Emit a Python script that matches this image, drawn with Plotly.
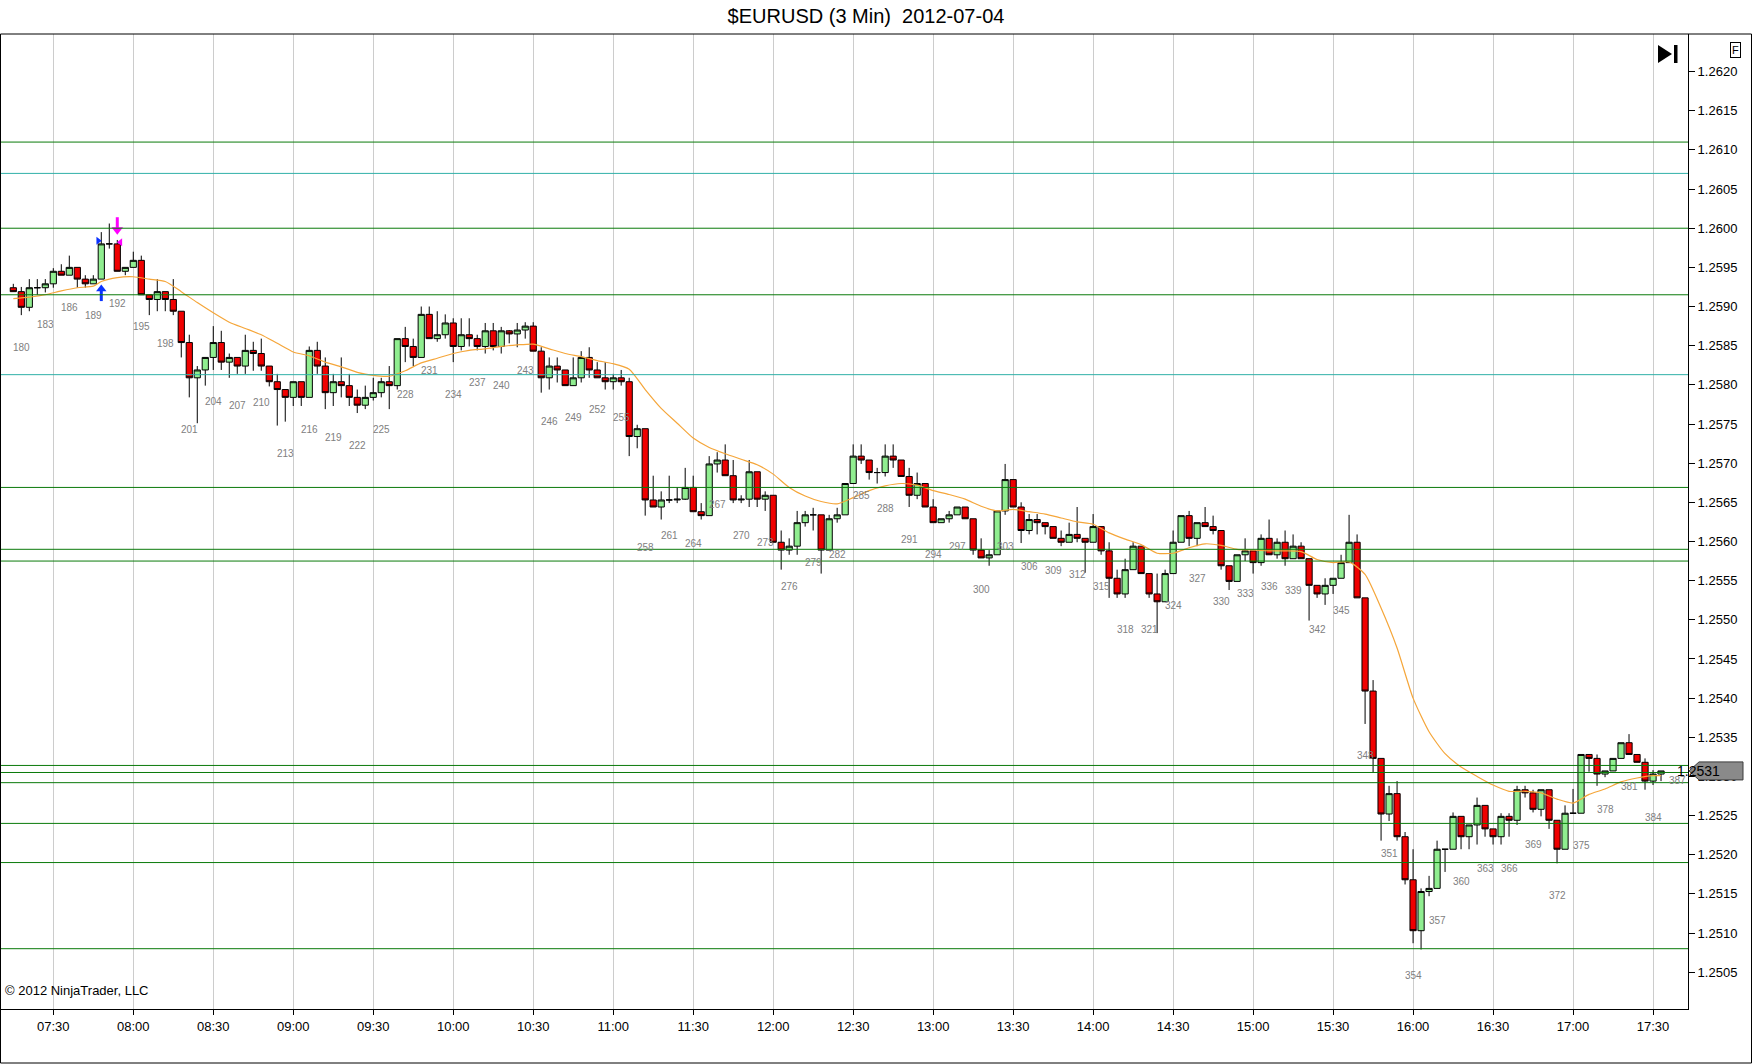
import pandas as pd
import plotly.graph_objects as go


# 3-minute EURUSD bars, bar 179 (07:15) .. bar 385 (17:33)
first_bar = 179
first_time = "2012-07-04 07:15"

opens = [1.25924, 1.25919, 1.25899, 1.25924, 1.25924, 1.25929, 1.25945, 1.25940, 1.25950, 1.25935,
         1.25929, 1.25935, 1.25980, 1.25980, 1.25945, 1.25950, 1.25959, 1.25915, 1.25909, 1.25919,
         1.25909, 1.25894, 1.25854, 1.25809, 1.25819, 1.25835, 1.25854, 1.25829, 1.25835, 1.25824,
         1.25844, 1.25840, 1.25824, 1.25804, 1.25794, 1.25784, 1.25804, 1.25784, 1.25844, 1.25824,
         1.25790, 1.25804, 1.25799, 1.25784, 1.25774, 1.25784, 1.25790, 1.25804, 1.25799, 1.25859,
         1.25849, 1.25835, 1.25890, 1.25859, 1.25864, 1.25879, 1.25849, 1.25864, 1.25859, 1.25849,
         1.25869, 1.25849, 1.25869, 1.25865, 1.25870, 1.25875, 1.25843, 1.25809, 1.25824, 1.25819,
         1.25799, 1.25809, 1.25835, 1.25819, 1.25809, 1.25804, 1.25809, 1.25804, 1.25734, 1.25744,
         1.25653, 1.25644, 1.25653, 1.25653, 1.25654, 1.25669, 1.25638, 1.25633, 1.25699, 1.25704,
         1.25684, 1.25653, 1.25654, 1.25689, 1.25654, 1.25659, 1.25599, 1.25589, 1.25594, 1.25624,
         1.25634, 1.25634, 1.25589, 1.25629, 1.25634, 1.25674, 1.25709, 1.25704, 1.25688, 1.25688,
         1.25709, 1.25704, 1.25683, 1.25659, 1.25674, 1.25644, 1.25624, 1.25629, 1.25634, 1.25644,
         1.25629, 1.25589, 1.25579, 1.25583, 1.25639, 1.25679, 1.25644, 1.25614, 1.25628, 1.25624,
         1.25619, 1.25604, 1.25599, 1.25609, 1.25604, 1.25599, 1.25619, 1.25588, 1.25553, 1.25533,
         1.25564, 1.25594, 1.25559, 1.25533, 1.25523, 1.25559, 1.25599, 1.25633, 1.25604, 1.25624,
         1.25619, 1.25614, 1.25569, 1.25549, 1.25583, 1.25588, 1.25573, 1.25604, 1.25583, 1.25599,
         1.25578, 1.25594, 1.25578, 1.25544, 1.25533, 1.25544, 1.25553, 1.25573, 1.25599, 1.25528,
         1.25409, 1.25323, 1.25252, 1.25278, 1.25223, 1.25168, 1.25103, 1.25153, 1.25157, 1.25207,
         1.25207, 1.25249, 1.25223, 1.25238, 1.25263, 1.25233, 1.25223, 1.25249, 1.25244, 1.25283,
         1.25279, 1.25258, 1.25283, 1.25244, 1.25207, 1.25253, 1.25253, 1.25328, 1.25323, 1.25303,
         1.25307, 1.25323, 1.25343, 1.25328, 1.25318, 1.25294, 1.25303]

highs = [1.25929, 1.25925, 1.25935, 1.25935, 1.25935, 1.25949, 1.25954, 1.25965, 1.25950, 1.25940,
         1.25940, 1.25995, 1.26006, 1.25985, 1.25950, 1.25970, 1.25965, 1.25915, 1.25935, 1.25919,
         1.25935, 1.25894, 1.25864, 1.25824, 1.25835, 1.25875, 1.25869, 1.25840, 1.25835, 1.25864,
         1.25855, 1.25859, 1.25824, 1.25814, 1.25794, 1.25804, 1.25804, 1.25849, 1.25855, 1.25835,
         1.25814, 1.25835, 1.25814, 1.25794, 1.25799, 1.25809, 1.25809, 1.25824, 1.25859, 1.25874,
         1.25859, 1.25900, 1.25900, 1.25894, 1.25890, 1.25885, 1.25885, 1.25885, 1.25864, 1.25879,
         1.25879, 1.25874, 1.25870, 1.25879, 1.25880, 1.25880, 1.25848, 1.25835, 1.25835, 1.25819,
         1.25835, 1.25843, 1.25848, 1.25829, 1.25829, 1.25814, 1.25819, 1.25809, 1.25749, 1.25744,
         1.25684, 1.25664, 1.25684, 1.25669, 1.25694, 1.25684, 1.25649, 1.25709, 1.25714, 1.25724,
         1.25704, 1.25659, 1.25704, 1.25689, 1.25664, 1.25659, 1.25614, 1.25604, 1.25639, 1.25639,
         1.25643, 1.25634, 1.25634, 1.25643, 1.25674, 1.25724, 1.25724, 1.25704, 1.25694, 1.25724,
         1.25724, 1.25704, 1.25694, 1.25688, 1.25674, 1.25654, 1.25629, 1.25639, 1.25644, 1.25644,
         1.25629, 1.25604, 1.25589, 1.25639, 1.25699, 1.25679, 1.25650, 1.25635, 1.25635, 1.25624,
         1.25619, 1.25614, 1.25624, 1.25644, 1.25604, 1.25635, 1.25619, 1.25599, 1.25564, 1.25578,
         1.25599, 1.25594, 1.25559, 1.25559, 1.25564, 1.25614, 1.25633, 1.25639, 1.25624, 1.25644,
         1.25633, 1.25614, 1.25569, 1.25583, 1.25604, 1.25588, 1.25609, 1.25628, 1.25604, 1.25614,
         1.25609, 1.25599, 1.25578, 1.25544, 1.25553, 1.25553, 1.25583, 1.25634, 1.25609, 1.25528,
         1.25423, 1.25323, 1.25288, 1.25294, 1.25229, 1.25207, 1.25157, 1.25173, 1.25218, 1.25207,
         1.25254, 1.25249, 1.25238, 1.25273, 1.25263, 1.25233, 1.25253, 1.25253, 1.25288, 1.25288,
         1.25283, 1.25283, 1.25283, 1.25244, 1.25263, 1.25284, 1.25328, 1.25328, 1.25328, 1.25307,
         1.25323, 1.25343, 1.25354, 1.25328, 1.25323, 1.25308, 1.25307]

lows = [1.25919, 1.25889, 1.25894, 1.25915, 1.25918, 1.25924, 1.25940, 1.25940, 1.25924, 1.25924,
        1.25929, 1.25935, 1.25974, 1.25945, 1.25940, 1.25950, 1.25915, 1.25889, 1.25894, 1.25894,
        1.25889, 1.25835, 1.25784, 1.25751, 1.25799, 1.25819, 1.25819, 1.25809, 1.25814, 1.25814,
        1.25818, 1.25818, 1.25798, 1.25748, 1.25753, 1.25773, 1.25773, 1.25784, 1.25814, 1.25769,
        1.25773, 1.25784, 1.25773, 1.25764, 1.25769, 1.25780, 1.25784, 1.25769, 1.25794, 1.25829,
        1.25824, 1.25835, 1.25859, 1.25855, 1.25859, 1.25829, 1.25844, 1.25849, 1.25844, 1.25840,
        1.25844, 1.25840, 1.25853, 1.25848, 1.25859, 1.25843, 1.25790, 1.25794, 1.25803, 1.25799,
        1.25799, 1.25803, 1.25809, 1.25809, 1.25794, 1.25794, 1.25799, 1.25709, 1.25719, 1.25633,
        1.25644, 1.25628, 1.25649, 1.25649, 1.25653, 1.25638, 1.25628, 1.25633, 1.25688, 1.25684,
        1.25649, 1.25649, 1.25644, 1.25644, 1.25639, 1.25599, 1.25564, 1.25583, 1.25583, 1.25619,
        1.25614, 1.25559, 1.25589, 1.25624, 1.25634, 1.25674, 1.25699, 1.25679, 1.25674, 1.25683,
        1.25694, 1.25683, 1.25644, 1.25654, 1.25644, 1.25624, 1.25624, 1.25624, 1.25634, 1.25629,
        1.25583, 1.25579, 1.25569, 1.25583, 1.25634, 1.25644, 1.25598, 1.25609, 1.25609, 1.25609,
        1.25604, 1.25594, 1.25599, 1.25599, 1.25560, 1.25599, 1.25583, 1.25528, 1.25528, 1.25528,
        1.25564, 1.25559, 1.25528, 1.25483, 1.25523, 1.25559, 1.25599, 1.25594, 1.25594, 1.25619,
        1.25609, 1.25564, 1.25538, 1.25549, 1.25575, 1.25559, 1.25569, 1.25583, 1.25578, 1.25569,
        1.25578, 1.25578, 1.25499, 1.25528, 1.25519, 1.25533, 1.25553, 1.25573, 1.25528, 1.25367,
        1.25305, 1.25218, 1.25243, 1.25218, 1.25162, 1.25087, 1.25079, 1.25147, 1.25157, 1.25178,
        1.25207, 1.25207, 1.25207, 1.25213, 1.25223, 1.25213, 1.25213, 1.25223, 1.25238, 1.25273,
        1.25254, 1.25249, 1.25233, 1.25189, 1.25207, 1.25253, 1.25253, 1.25306, 1.25288, 1.25299,
        1.25307, 1.25323, 1.25328, 1.25318, 1.25283, 1.25289, 1.25294]

closes = [1.25919, 1.25899, 1.25924, 1.25924, 1.25929, 1.25945, 1.25940, 1.25950, 1.25935, 1.25929,
          1.25935, 1.25980, 1.25980, 1.25945, 1.25950, 1.25959, 1.25915, 1.25909, 1.25919, 1.25909,
          1.25894, 1.25854, 1.25809, 1.25819, 1.25835, 1.25854, 1.25829, 1.25835, 1.25824, 1.25844,
          1.25840, 1.25824, 1.25804, 1.25794, 1.25784, 1.25804, 1.25784, 1.25844, 1.25824, 1.25790,
          1.25804, 1.25799, 1.25784, 1.25774, 1.25784, 1.25790, 1.25804, 1.25799, 1.25859, 1.25849,
          1.25835, 1.25890, 1.25859, 1.25864, 1.25879, 1.25849, 1.25864, 1.25859, 1.25849, 1.25869,
          1.25849, 1.25869, 1.25865, 1.25870, 1.25875, 1.25843, 1.25809, 1.25824, 1.25819, 1.25799,
          1.25809, 1.25835, 1.25819, 1.25809, 1.25804, 1.25809, 1.25804, 1.25734, 1.25744, 1.25653,
          1.25644, 1.25653, 1.25653, 1.25654, 1.25669, 1.25638, 1.25633, 1.25699, 1.25704, 1.25684,
          1.25653, 1.25654, 1.25689, 1.25654, 1.25659, 1.25599, 1.25589, 1.25594, 1.25624, 1.25634,
          1.25634, 1.25589, 1.25629, 1.25634, 1.25674, 1.25709, 1.25704, 1.25688, 1.25688, 1.25709,
          1.25704, 1.25683, 1.25659, 1.25674, 1.25644, 1.25624, 1.25629, 1.25634, 1.25644, 1.25629,
          1.25589, 1.25579, 1.25583, 1.25639, 1.25679, 1.25644, 1.25614, 1.25628, 1.25624, 1.25619,
          1.25604, 1.25599, 1.25609, 1.25604, 1.25599, 1.25619, 1.25588, 1.25553, 1.25533, 1.25564,
          1.25594, 1.25559, 1.25533, 1.25523, 1.25559, 1.25599, 1.25633, 1.25604, 1.25624, 1.25619,
          1.25614, 1.25569, 1.25549, 1.25583, 1.25588, 1.25573, 1.25604, 1.25583, 1.25599, 1.25578,
          1.25594, 1.25578, 1.25544, 1.25533, 1.25544, 1.25553, 1.25573, 1.25599, 1.25528, 1.25409,
          1.25323, 1.25252, 1.25278, 1.25223, 1.25168, 1.25103, 1.25153, 1.25157, 1.25207, 1.25207,
          1.25249, 1.25223, 1.25238, 1.25263, 1.25233, 1.25223, 1.25249, 1.25244, 1.25283, 1.25279,
          1.25258, 1.25283, 1.25244, 1.25207, 1.25253, 1.25253, 1.25328, 1.25323, 1.25303, 1.25307,
          1.25323, 1.25343, 1.25328, 1.25318, 1.25294, 1.25303, 1.25307]

# moving average (orange), read at every second bar
ma_bars = [179, 181, 183, 185, 187, 189, 190, 192, 194, 196, 198, 200, 202, 204, 206, 208, 210,
           212, 214, 216, 218, 220, 222, 224, 226, 228, 230, 232, 234, 236, 238, 240, 242, 244,
           246, 248, 250, 252, 254, 256, 258, 260, 262, 264, 266, 268, 270, 272, 274, 276, 278,
           280, 282, 284, 286, 288, 290, 292, 294, 296, 298, 300, 302, 304, 306, 308, 310, 312,
           314, 316, 318, 320, 322, 324, 326, 328, 330, 332, 334, 336, 338, 340, 342, 344, 346,
           348, 350, 352, 354, 356, 358, 360, 362, 364, 366, 368, 370, 372, 374, 376, 378, 380,
           382, 384, 385]
ma_values = [1.25910, 1.25912, 1.25915, 1.25920, 1.25924, 1.25926, 1.25932, 1.25937, 1.25938,
             1.25935, 1.25932, 1.25919, 1.25905, 1.25892, 1.25880, 1.25872, 1.25864, 1.25853,
             1.25842, 1.25837, 1.25829, 1.25823, 1.25816, 1.25812, 1.25811, 1.25818, 1.25828,
             1.25834, 1.25840, 1.25844, 1.25846, 1.25849, 1.25851, 1.25852, 1.25846, 1.25840,
             1.25836, 1.25831, 1.25827, 1.25820, 1.25794, 1.25770, 1.25751, 1.25732, 1.25720,
             1.25712, 1.25705, 1.25698, 1.25686, 1.25669, 1.25658, 1.25651, 1.25648, 1.25656,
             1.25665, 1.25671, 1.25674, 1.25672, 1.25665, 1.25660, 1.25654, 1.25645, 1.25639,
             1.25641, 1.25638, 1.25635, 1.25630, 1.25625, 1.25622, 1.25611, 1.25603, 1.25596,
             1.25585, 1.25585, 1.25592, 1.25597, 1.25595, 1.25590, 1.25589, 1.25588, 1.25588,
             1.25587, 1.25577, 1.25573, 1.25574, 1.25558, 1.25515, 1.25464, 1.25400, 1.25357,
             1.25329, 1.25312, 1.25300, 1.25289, 1.25281, 1.25281, 1.25279, 1.25271, 1.25266,
             1.25277, 1.25284, 1.25293, 1.25298, 1.25301, 1.25301]

# drawn horizontal price levels
green_levels = [1.26110, 1.26000, 1.25915, 1.25669, 1.25590, 1.25575,
                1.25314, 1.25305, 1.25292, 1.25240, 1.25190, 1.25080]
teal_levels = [1.26070, 1.25813]

# trade markers: entry on bar 190, exit on bar 192
entry_bar, entry_price, entry_arrow = 190, 1.25984, 1.25918
exit_bar, exit_price, exit_arrow = 192, 1.25982, 1.26002

label_extra = (387, 1.25295)

y_range = [1.25003, 1.26248]
x_range = ["2012-07-04 07:10:23", "2012-07-04 17:43:07"]

times = pd.date_range(first_time, periods=len(opens), freq="3min")
bar_step = pd.Timedelta(minutes=3)


def bar_time(n):
    return pd.Timestamp(first_time) + (n - first_bar) * bar_step


W, H = 1752, 1064
ML, MR, MT, MB = 1, 64, 34, 55


def px(xp):
    return (xp - ML) / (W - ML - MR)


def py(yp):
    return (H - MB - yp) / (H - MT - MB)


FONT = "Liberation Sans, Arial, sans-serif"

fig = go.Figure()

fig.add_trace(go.Candlestick(x=times, open=opens, high=highs, low=lows, close=closes,
                             increasing=dict(fillcolor="#90ee90", line=dict(color="black", width=1)),
                             decreasing=dict(fillcolor="#f00000", line=dict(color="black", width=1)),
                             whiskerwidth=0, showlegend=False, hoverinfo="skip"))

fig.add_trace(go.Scatter(x=[bar_time(b) for b in ma_bars], y=ma_values, mode="lines",
                         line=dict(color="#f5a63a", width=1.2, shape="spline", smoothing=0.6),
                         showlegend=False, hoverinfo="skip"))

# execution markers: block arrows (head + stem) and small flags
fig.add_trace(go.Scatter(x=[bar_time(entry_bar)], y=[entry_arrow + 0.000045],
                         mode="markers", showlegend=False, hoverinfo="skip",
                         marker=dict(color="#0a32ff", symbol="triangle-up", size=9)))
fig.add_trace(go.Scatter(x=[bar_time(entry_bar)], y=[entry_arrow - 0.00003],
                         mode="markers", showlegend=False, hoverinfo="skip",
                         marker=dict(symbol="line-ns", size=9,
                                     line=dict(color="#0a32ff", width=3))))
fig.add_trace(go.Scatter(x=[bar_time(exit_bar)], y=[exit_arrow - 0.00004],
                         mode="markers", showlegend=False, hoverinfo="skip",
                         marker=dict(color="#ff00ff", symbol="triangle-down", size=10)))
fig.add_trace(go.Scatter(x=[bar_time(exit_bar)], y=[exit_arrow + 0.00004],
                         mode="markers", showlegend=False, hoverinfo="skip",
                         marker=dict(symbol="line-ns", size=9,
                                     line=dict(color="#ff00ff", width=3))))
fig.add_trace(go.Scatter(x=[bar_time(entry_bar) - pd.Timedelta(seconds=70)], y=[entry_price],
                         mode="markers", showlegend=False, hoverinfo="skip",
                         marker=dict(color="#0a32ff", symbol="triangle-right", size=7)))
fig.add_trace(go.Scatter(x=[bar_time(exit_bar) + pd.Timedelta(seconds=70)], y=[exit_price],
                         mode="markers", showlegend=False, hoverinfo="skip",
                         marker=dict(color="#ff00ff", symbol="triangle-left", size=7)))

# bar numbers under every third bar
annotations = []
for n in range(180, first_bar + len(opens), 3):
    i = n - first_bar
    annotations.append(dict(x=times[i], y=lows[i], text=str(n), showarrow=False,
                            yshift=-32, font=dict(size=10, color="#808080", family=FONT)))
annotations.append(dict(x=bar_time(label_extra[0]), y=label_extra[1], text=str(label_extra[0]),
                        showarrow=False, font=dict(size=10, color="#808080", family=FONT)))

# last price tag
last = closes[-1]
annotations.append(dict(x=px(1722), y=last, xref="paper", yref="y", text=f"{last:.4f}",
                        showarrow=False, font=dict(size=14, color="black", family=FONT)))
annotations.append(dict(x=px(3), y=py(1000), xref="paper", yref="paper", xanchor="left",
                        text="© 2012 NinjaTrader, LLC", showarrow=False,
                        font=dict(size=13, color="black", family=FONT)))
annotations.append(dict(x=px(1741), y=py(42), xref="paper", yref="paper", text="F",
                        showarrow=False, bordercolor="black", borderwidth=1, borderpad=1,
                        bgcolor="white", font=dict(size=11, color="black", family=FONT)))

shapes = [
    dict(type="path", xref="paper", yref="y", layer="above",
         path=(f"M {px(1689)},{last} L {px(1699)},{last + 0.000115} L {px(1743)},{last + 0.000115} "
               f"L {px(1743)},{last - 0.000115} L {px(1699)},{last - 0.000115} Z"),
         fillcolor="#8a8a8a", line=dict(color="#3c3c3c", width=1)),
    dict(type="path", xref="paper", yref="paper",
         path=f"M {px(1658)},{py(45)} L {px(1672)},{py(54)} L {px(1658)},{py(63)} Z",
         fillcolor="black", line=dict(width=0)),
    dict(type="rect", xref="paper", yref="paper", x0=px(1674), x1=px(1677.5), y0=py(63), y1=py(45),
         fillcolor="black", line=dict(width=0)),
    dict(type="rect", xref="paper", yref="paper", x0=px(0.5), x1=px(1751.5), y0=py(1063), y1=1,
         line=dict(color="black", width=1), fillcolor="rgba(0,0,0,0)"),
]

fig.update_layout(
    width=W, height=H,
    margin=dict(l=ML, r=MR, t=MT, b=MB, pad=0),
    paper_bgcolor="white", plot_bgcolor="white",
    font=dict(family=FONT, size=13, color="black"),
    title=dict(text="$EURUSD (3 Min)&nbsp; 2012-07-04", x=866 / W, xref="container",
               xanchor="center", y=1 - 15.6 / H, yanchor="middle",
               font=dict(size=20, color="black", family=FONT)),
    annotations=annotations,
    shapes=shapes,
    showlegend=False,
    boxgap=0.12, boxgroupgap=0.12,
)

# horizontal levels drawn on top of the bars
for lvl in green_levels:
    fig.add_hline(y=lvl, line=dict(color="#0a7a0a", width=1), layer="above")
for lvl in teal_levels:
    fig.add_hline(y=lvl, line=dict(color="#2fb0a8", width=1), layer="above")

fig.update_xaxes(type="date", range=x_range, rangeslider_visible=False,
                 tickformat="%H:%M", dtick=30 * 60 * 1000, tick0="2012-07-04 07:30",
                 ticks="outside", ticklen=5, tickcolor="black",
                 showgrid=True, gridcolor="#cccccc", gridwidth=1,
                 showline=True, linecolor="black", linewidth=1, zeroline=False,
                 tickfont=dict(size=13, color="black", family=FONT))

fig.update_yaxes(side="right", range=y_range, dtick=0.0005, tick0=1.25, tickformat=".4f",
                 ticks="outside", ticklen=6, tickcolor="black",
                 showgrid=False, zeroline=False,
                 showline=True, linecolor="black", linewidth=1,
                 tickfont=dict(size=13, color="black", family=FONT))

fig.write_html("out.html", config={"displayModeBar": False},
               post_script="document.body.style.margin='0';document.body.style.overflow='hidden';")
